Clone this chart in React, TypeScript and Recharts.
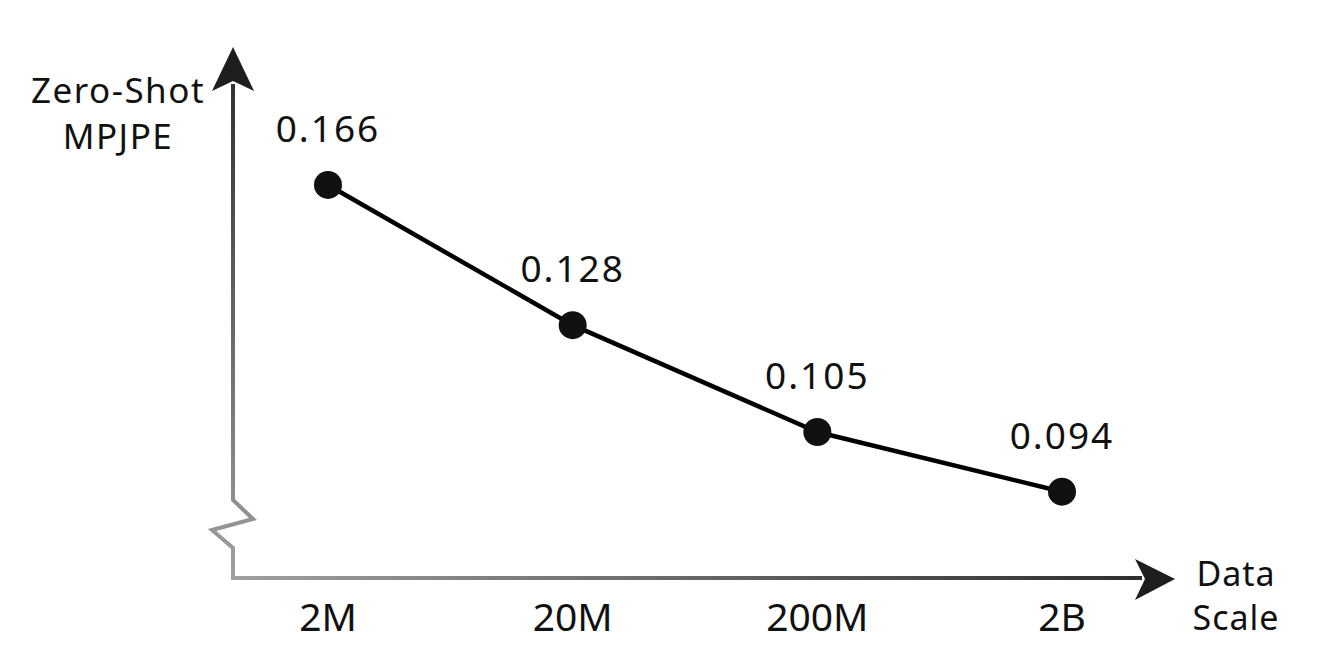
import { LineChart, Line, XAxis, YAxis, LabelList } from "recharts";

const scales = ["2M", "20M", "200M", "2B"];
const mpjpe = [0.166, 0.128, 0.105, 0.094];

const data = scales.map((s, i) => ({ scale: s, mpjpe: mpjpe[i] }));

const W = 1317;
const H = 671;
// axis frame
const AX_LEFT = 233;
const AX_BOTTOM = 578;
const AX_TOP = 50;
const AX_RIGHT = 1175;

const FONT = "'Noto Sans', sans-serif";

const Dot = (props: { cx?: number; cy?: number }) => {
  const { cx, cy } = props;
  if (cx == null || cy == null) return null;
  return <circle cx={cx} cy={cy} r={14} fill="#111" />;
};

function AxesOverlay() {
  return (
    <svg
      width={W}
      height={H}
      style={{ position: "absolute", left: 0, top: 0, pointerEvents: "none" }}
    >
      <defs>
        <linearGradient id="gy" gradientUnits="userSpaceOnUse" x1="0" y1={AX_BOTTOM} x2="0" y2={AX_TOP}>
          <stop offset="0%" stopColor="#a0a0a0" />
          <stop offset="100%" stopColor="#2a2a2a" />
        </linearGradient>
        <linearGradient id="gx" gradientUnits="userSpaceOnUse" x1={AX_LEFT} y1="0" x2={AX_RIGHT} y2="0">
          <stop offset="0%" stopColor="#a0a0a0" />
          <stop offset="100%" stopColor="#2a2a2a" />
        </linearGradient>
      </defs>
      {/* y axis with break */}
      <path
        d={`M${AX_LEFT},${AX_BOTTOM + 2} L${AX_LEFT},548 L212,530 L253,519 L${AX_LEFT},500 L${AX_LEFT},84`}
        fill="none"
        stroke="url(#gy)"
        strokeWidth={4}
        strokeLinejoin="miter"
      />
      <path d={`M${AX_LEFT},47 L212,91 L${AX_LEFT},81 L254,91 Z`} fill="#1e1e1e" />
      {/* x axis */}
      <line
        x1={AX_LEFT - 2}
        y1={AX_BOTTOM}
        x2={1142}
        y2={AX_BOTTOM}
        stroke="url(#gx)"
        strokeWidth={4}
      />
      <path d={`M${AX_RIGHT},579 L1135,559 L1145,579 L1135,600 Z`} fill="#1e1e1e" />
      <g fontFamily={FONT} fill="#111" textAnchor="middle">
        <text x={118} y={103} fontSize={35} letterSpacing={1.5}>Zero-Shot</text>
        <text x={118} y={149} fontSize={35} letterSpacing={1.5}>MPJPE</text>
        <text x={1236} y={586} fontSize={34} letterSpacing={1}>Data</text>
        <text x={1236} y={630} fontSize={34} letterSpacing={1}>Scale</text>
      </g>
    </svg>
  );
}

export default function App() {
  return (
    <div
      style={{
        position: "absolute",
        left: 0,
        top: 0,
        width: W,
        height: H,
        background: "#fff",
        fontFamily: FONT,
      }}
    >
      <LineChart
        width={W}
        height={H}
        data={data}
        margin={{ top: AX_TOP, left: AX_LEFT, right: W - AX_RIGHT, bottom: H - AX_BOTTOM - 60 }}
      >
        <XAxis
          dataKey="scale"
          height={60}
          axisLine={false}
          tickLine={false}
          tickSize={0}
          tickMargin={25}
          padding={{ left: 95, right: 113 }}
          tick={{ fill: "#111", fontSize: 39 }}
        />
        <YAxis hide type="number" scale="log" domain={[0.0801, 0.2132]} allowDataOverflow />
        <Line
          type="linear"
          dataKey="mpjpe"
          stroke="#000"
          strokeWidth={4.5}
          dot={<Dot />}
          activeDot={false}
          isAnimationActive={false}
        >
          <LabelList
            dataKey="mpjpe"
            position="top"
            offset={43}
            fill="#111"
            fontSize={37}
            letterSpacing={2}
          />
        </Line>
      </LineChart>
      <AxesOverlay />
    </div>
  );
}
